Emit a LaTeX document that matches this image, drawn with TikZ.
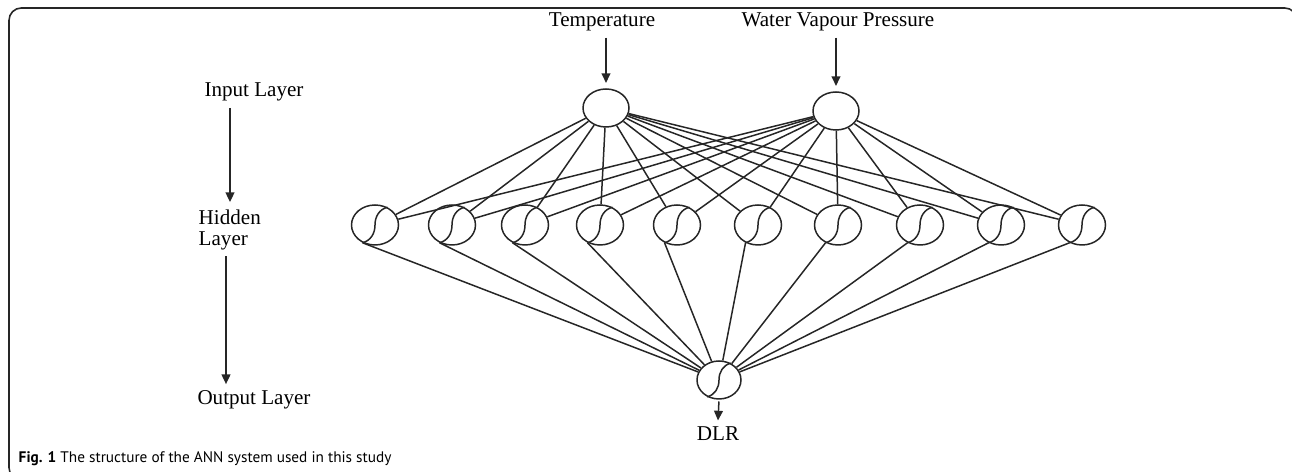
\documentclass[tikz,border=0pt]{standalone}
\usepackage{fontspec}
\setmainfont{Liberation Serif}
\newfontfamily\didascalia{PT Sans}
\usetikzlibrary{shapes.geometric,arrows.meta}

\begin{document}
\begin{tikzpicture}[
                x=0.02cm, y=0.02cm,
                line width=0.85pt,
                draw=black!85,
                >={Triangle[length=5.5pt,width=5pt]},
                font=\fontsize{12}{14}\selectfont,
                % Stile per i nodi di ingresso (ellisse vuota)
                ingresso/.style={
                    draw,
                    ellipse,
                    inner sep=0pt,
                    minimum width=0.92cm,
                    minimum height=0.76cm
                },
                % Stile per i neuroni con funzione sigmoide
                neurone/.style={
                    draw,
                    ellipse,
                    inner sep=0pt,
                    minimum width=0.94cm,
                    minimum height=0.8cm
                }
            ]
                \useasboundingbox (0,0) rectangle (1292,472);

                % Cornice arrotondata
                \draw[line width=0.9pt, rounded corners=7pt] (9,464) rectangle (1297,-8);

                % ========================================================
                % 1. Colonna delle etichette dei livelli (a sinistra)
                % ========================================================
                \node (lab_in) at (254, 380) {Input Layer};
                \node[anchor=west, align=left, inner sep=0pt] (lab_hid) at (198, 242) {Hidden\\[-2pt]Layer};
                \node (lab_out) at (254, 72) {Output Layer};

                \draw[->] (lab_in.south -| 230, 0) -- ([yshift=4pt]lab_hid.north -| 230, 0);
                \draw[->] ([yshift=-3pt]lab_hid.south -| 226, 0) -- (lab_out.north -| 226, 0);

                % ========================================================
                % 2. Livello di ingresso
                % ========================================================
                \node[ingresso] (temp) at (606, 364) {};
                \node[ingresso] (vap) at (836, 361) {};

                \node (lab_temp) at (602, 450) {Temperature};
                \node (lab_vap) at (838, 450) {Water Vapour Pressure};

                \draw[->, shorten >=3pt] (lab_temp.south -| temp) -- (temp.north);
                \draw[->, shorten >=3pt] (lab_vap.south -| vap) -- (vap.north);

                % ========================================================
                % 3. Livello nascosto (10 neuroni)
                % ========================================================
                \foreach \i/\x in {1/375, 2/452, 3/525, 4/600, 5/677,
                                   6/758, 7/838, 8/920, 9/1001, 10/1082} {
                    \node[neurone] (h\i) at (\x, 247) {};
                    \draw (h\i.235) to[out=15, in=-90] (h\i.center) to[out=90, in=195] (h\i.55);
                }

                % Collegamenti ingresso -> nascosto
                \foreach \i in {1,...,10} {
                    \draw (temp) -- (h\i);
                    \draw (vap) -- (h\i);
                }

                % ========================================================
                % 4. Livello di uscita
                % ========================================================
                \node[neurone, minimum width=0.88cm, minimum height=0.76cm] (dlr) at (719, 92) {};
                \draw (dlr.235) to[out=15, in=-90] (dlr.center) to[out=90, in=195] (dlr.55);

                % Collegamenti nascosto -> uscita
                \foreach \i in {1,...,10}
                    \draw (h\i.235) -- (dlr);

                \node (lab_dlr) at (718, 38) {DLR};
                \draw[->, shorten <=1pt] (dlr.south) -- (lab_dlr.north);

                % Didascalia
                \node[anchor=base west, inner sep=0pt, font=\didascalia\fontsize{8.7}{10}\selectfont] (caption)
                    at (18, 9) {\textbf{Fig. 1} The structure of the ANN system used in this study};

            \end{tikzpicture}
\end{document}
